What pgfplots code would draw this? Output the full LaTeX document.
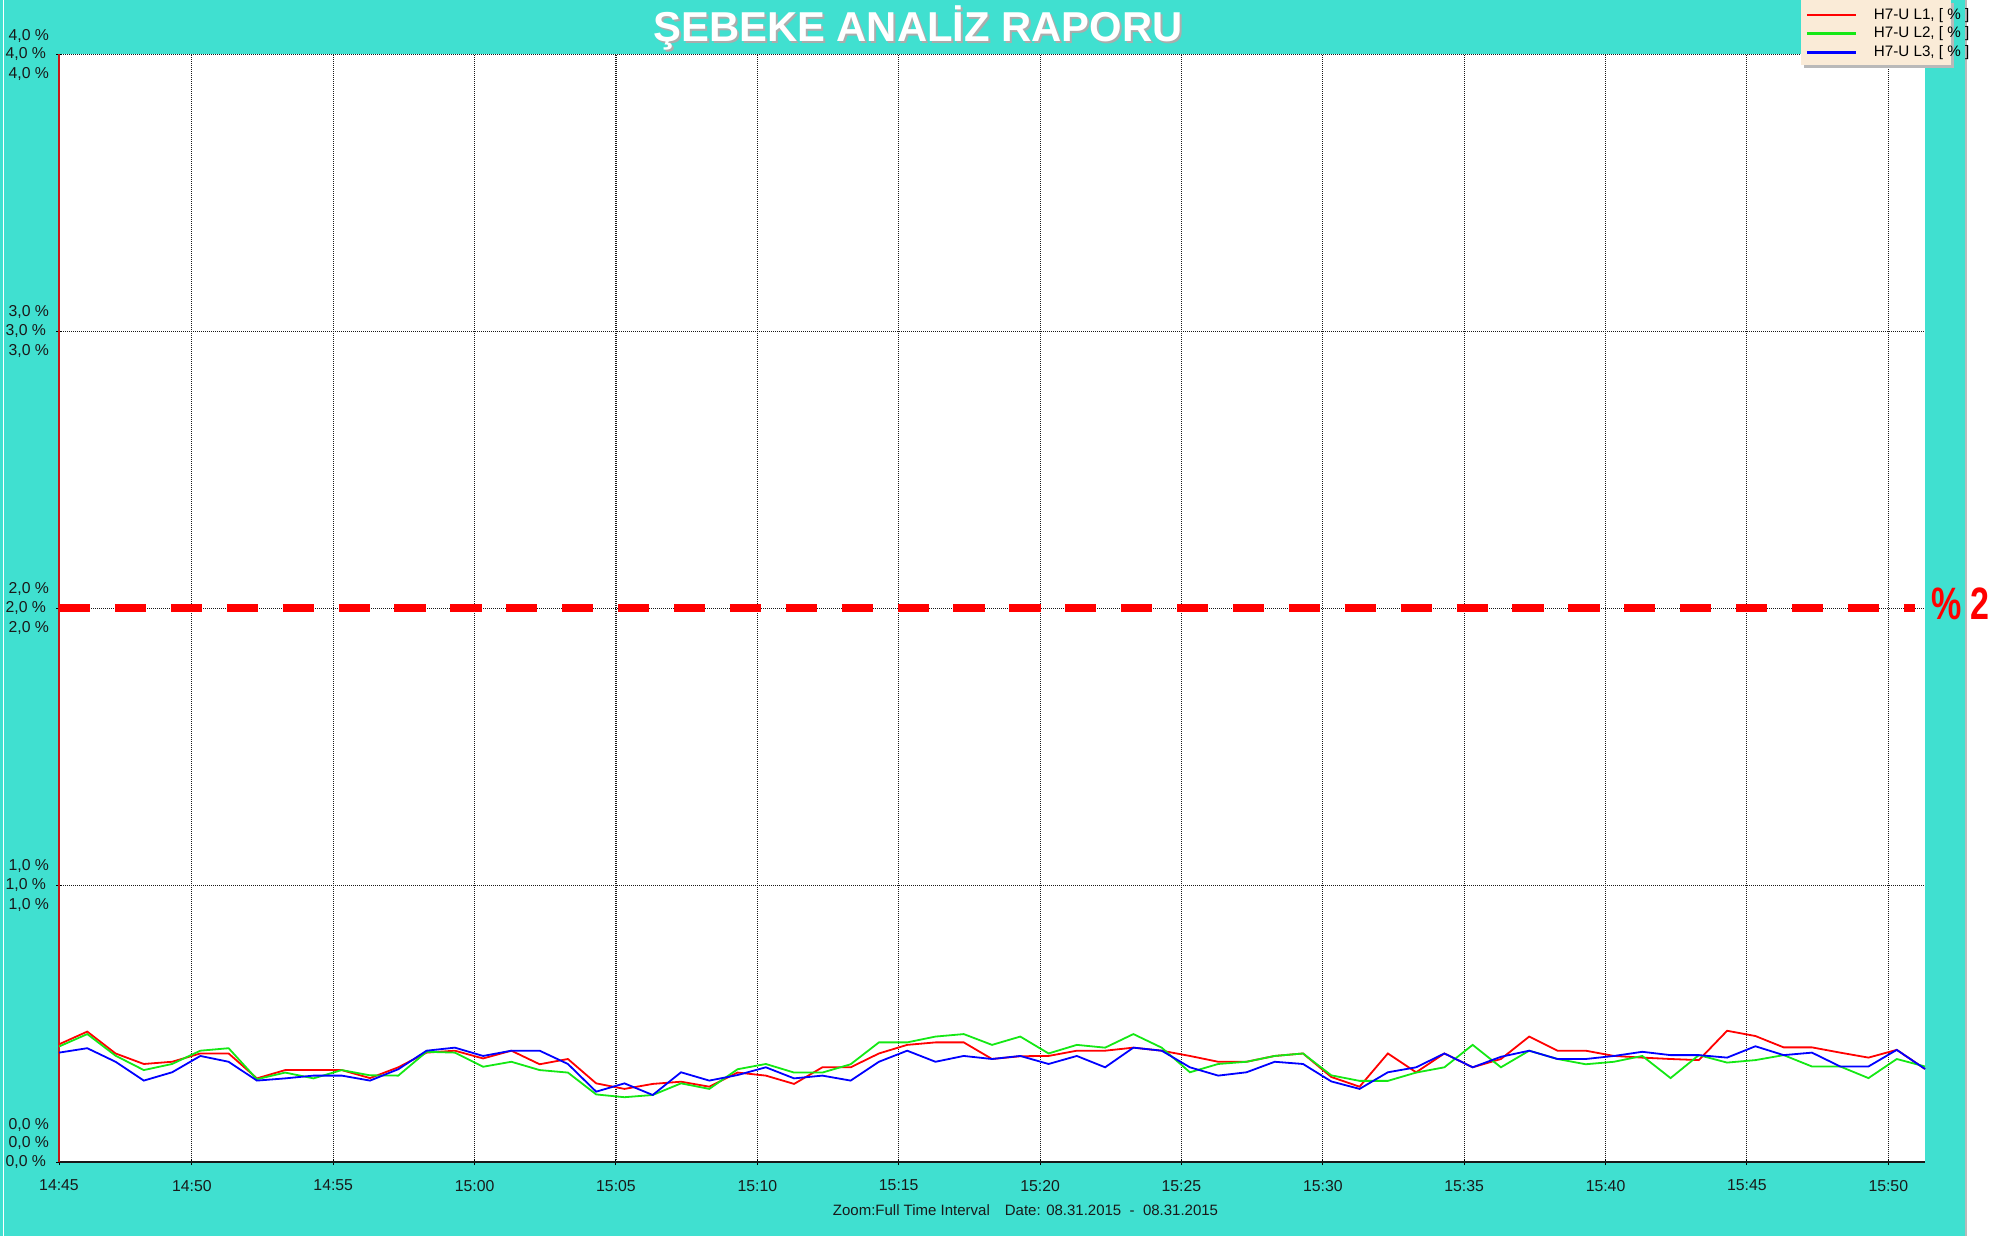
\documentclass[border=0pt]{standalone}
\usepackage{fontspec}
\setmainfont{Liberation Sans}
\usepackage{graphicx}
\usepackage{pgfplots}
\usepackage{pgfplotstable}
\pgfplotsset{compat=1.18}
\definecolor{bgcyan}{RGB}{64,224,208}
\definecolor{lineR}{RGB}{255,0,0}
\definecolor{lineG}{RGB}{20,232,20}
\definecolor{lineB}{RGB}{0,0,255}
\definecolor{legfill}{RGB}{250,235,215}
\definecolor{axred}{RGB}{200,25,25}

\pgfplotstableread{
t L1 L2 L3
0.3 0.425 0.417 0.395
1.3 0.471 0.462 0.411
2.3 0.392 0.384 0.362
3.3 0.354 0.332 0.294
4.3 0.362 0.354 0.324
5.3 0.392 0.402 0.383
6.3 0.392 0.411 0.362
7.3 0.302 0.299 0.294
8.3 0.332 0.323 0.302
9.3 0.332 0.302 0.312
10.3 0.332 0.332 0.312
11.3 0.303 0.313 0.294
12.3 0.342 0.312 0.335
13.3 0.395 0.398 0.402
14.3 0.402 0.395 0.413
15.3 0.374 0.344 0.383
16.3 0.402 0.362 0.402
17.3 0.353 0.332 0.402
18.3 0.372 0.323 0.354
19.3 0.284 0.244 0.254
20.3 0.264 0.234 0.284
21.3 0.282 0.242 0.242
22.3 0.290 0.284 0.324
23.3 0.272 0.264 0.294
24.3 0.323 0.335 0.314
25.3 0.312 0.354 0.342
26.3 0.282 0.323 0.302
27.3 0.342 0.323 0.312
28.3 0.342 0.353 0.294
29.3 0.392 0.432 0.362
30.3 0.423 0.432 0.402
31.3 0.432 0.453 0.362
32.3 0.432 0.462 0.383
33.3 0.372 0.423 0.372
34.3 0.382 0.453 0.383
35.3 0.383 0.392 0.354
36.3 0.402 0.423 0.383
37.3 0.402 0.413 0.342
38.3 0.413 0.462 0.413
39.3 0.402 0.413 0.402
40.3 0.383 0.324 0.342
41.3 0.362 0.354 0.312
42.3 0.362 0.362 0.324
43.3 0.383 0.383 0.362
44.3 0.392 0.392 0.354
45.3 0.307 0.313 0.291
46.3 0.272 0.293 0.264
47.3 0.392 0.293 0.324
48.3 0.324 0.323 0.342
49.3 0.392 0.342 0.392
50.3 0.342 0.423 0.342
51.3 0.372 0.342 0.380
52.3 0.453 0.402 0.402
53.3 0.402 0.372 0.372
54.3 0.402 0.353 0.372
55.3 0.383 0.362 0.383
56.3 0.377 0.383 0.398
57.3 0.372 0.303 0.386
58.3 0.368 0.386 0.386
59.3 0.474 0.359 0.377
60.3 0.455 0.368 0.418
61.3 0.414 0.386 0.386
62.3 0.414 0.345 0.395
63.3 0.395 0.345 0.345
64.3 0.377 0.303 0.345
65.3 0.405 0.372 0.405
66.3 0.336 0.345 0.336
}\datatable

\begin{document}
\begin{tikzpicture}
\fill[bgcyan] (0pt,0pt) rectangle (997.5pt,618pt);
\fill[white] (983.5pt,0pt) rectangle (997.5pt,618pt);
\draw[gray!55, line width=1pt] (983pt,0pt) -- (983pt,618pt);
\draw[white, line width=0.6pt] (1.75pt,0pt) -- (1.75pt,618pt);
\begin{axis}[
  at={(29.5pt,37pt)}, anchor=south west,
  scale only axis, width=933pt, height=553.75pt,
  xmin=0.3, xmax=66.3, ymin=0, ymax=4,
  axis background/.style={fill=white},
  axis x line*=bottom, axis y line*=left,
  x axis line style={black!90, line width=0.8pt},
  y axis line style={axred, line width=1pt},
  xtick={0.3,5,10,15,20,25,30,35,40,45,50,55,60,65},
  xticklabels={14:45,14:50,14:55,15:00,15:05,15:10,15:15,15:20,15:25,15:30,15:35,15:40,15:45,15:50},
  ytick={0,1,2,3,4},
  yticklabels={{0,0 \%},{1,0 \%},{2,0 \%},{3,0 \%},{4,0 \%}},
  extra y ticks={0.067,0.133,0.93,1.07,1.93,2.07,2.93,3.07,3.93},
  extra y tick labels={{0,0 \%},{0,0 \%},{1,0 \%},{1,0 \%},{2,0 \%},{2,0 \%},{3,0 \%},{3,0 \%},{4,0 \%}},
  extra y tick style={grid=none, major tick length=0pt},
  grid=major,
  major grid style={black!90, line width=0.55pt, dash pattern=on 0.5pt off 0.5pt},
  tick style={black, line width=0.5pt},
  tick align=center, major tick length=3pt,
  ticklabel style={font=\fontsize{7.9}{9.5}\selectfont, text=black!90},
  yticklabel style={inner sep=0pt, xshift=-4.8pt},
  xticklabel style={inner sep=0pt, yshift=-7.3pt},
  /pgf/number format/assume math mode=true,
  clip=false,
  legend cell align=left,
  legend image code/.code={\draw[#1, line width=1.4pt] (0pt,0pt) -- (24.5pt,0pt);},
  legend style={at={(axis description cs:0.93569,1.04226)}, anchor=north west,
    draw=none, fill=none, inner sep=0pt,
    font=\fontsize{7.6}{9}\selectfont, row sep=2.4pt,
    nodes={inner sep=0pt, text height=5.5pt, text depth=1.5pt},
    /tikz/every odd column/.append style={column sep=8.35pt}},
]
\addplot[lineR, line width=0.9pt, dash pattern=on 15.6pt off 12.35pt, line width=4pt, forget plot] coordinates {(0.3,2) (65.94,2)};
\addplot[lineR, line width=0.9pt] table[x=t, y=L1] {\datatable};
\addlegendentry{H7-U L1, [ \% ]}
\addplot[lineG, line width=0.9pt] table[x=t, y=L2] {\datatable};
\addlegendentry{H7-U L2, [ \% ]}
\addplot[lineB, line width=0.9pt] table[x=t, y=L3] {\datatable};
\addlegendentry{H7-U L3, [ \% ]}
\node[anchor=east, inner sep=0pt, xshift=-4.8pt, font=\fontsize{7.9}{9.5}\selectfont, text=black!90] at (axis cs:0.3,4.067) {4,0 \%};
\fill[gray!55] ([xshift=872.35pt, yshift=547pt]axis description cs:0,0) rectangle ([xshift=947.35pt, yshift=579.5pt]axis description cs:0,0);
\fill[legfill] ([xshift=870.85pt, yshift=548.5pt]axis description cs:0,0) rectangle ([xshift=945.85pt, yshift=581pt]axis description cs:0,0);
\end{axis}
\node[anchor=base, inner sep=0pt, text=gray!65, font=\fontsize{20.9}{24}\selectfont\bfseries] at (460pt,596pt) {ŞEBEKE ANALİZ RAPORU};
\node[anchor=base, inner sep=0pt, text=white, font=\fontsize{20.9}{24}\selectfont\bfseries] at (459pt,597pt) {ŞEBEKE ANALİZ RAPORU};
\node[anchor=base, inner sep=0pt, font=\fontsize{7.5}{9}\selectfont, text=black!90] at (512.75pt,10.5pt) {Zoom:Full Time Interval\quad Date: 08.31.2015\ \ -\ \ 08.31.2015};
\node[anchor=base west, inner sep=0pt, text=lineR, font=\fontsize{22.7}{26}\selectfont\bfseries] at (965.35pt,308.35pt) {\scalebox{0.75}[1]{\% 2}};
\pgfresetboundingbox
\path[use as bounding box] (0pt,0pt) rectangle (997.5pt,618pt);
\end{tikzpicture}
\end{document}
